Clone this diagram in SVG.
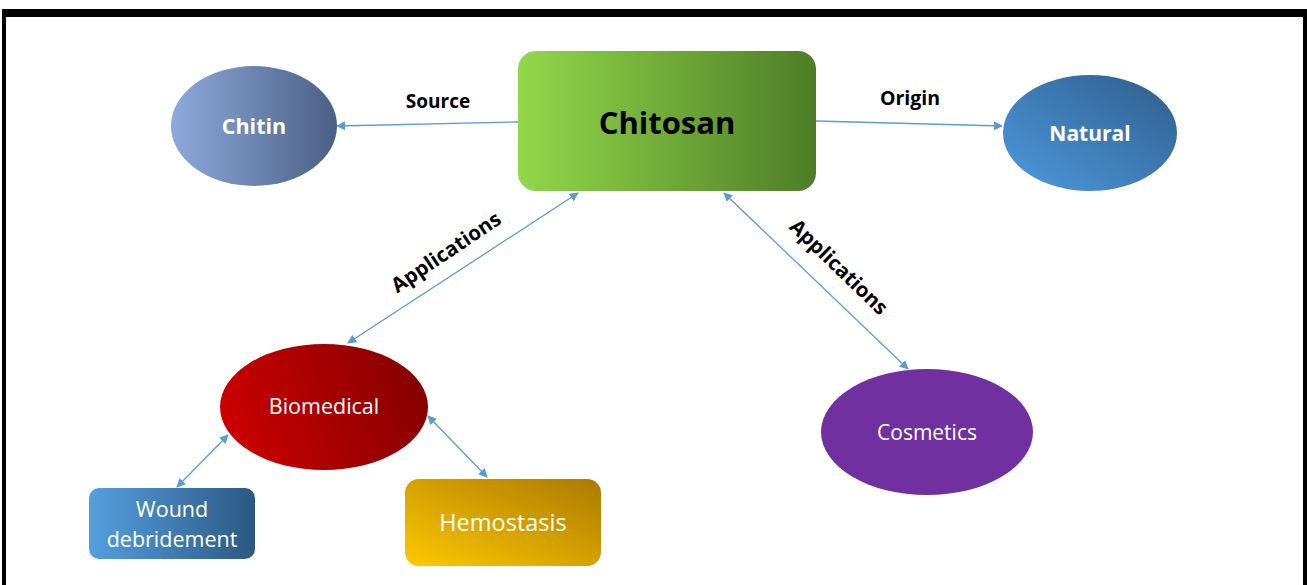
<svg xmlns="http://www.w3.org/2000/svg" width="1307" height="585" viewBox="0 0 1307 585">
<defs>
<linearGradient id="gGreen" x1="0" y1="0" x2="1" y2="0"><stop offset="0" stop-color="#92d84a"/><stop offset="1" stop-color="#4e7d27"/></linearGradient>
<linearGradient id="gChitin" x1="0" y1="0" x2="1" y2="0"><stop offset="0" stop-color="#8eaadc"/><stop offset="1" stop-color="#4a5f85"/></linearGradient>
<linearGradient id="gNatural" x1="0" y1="1" x2="1" y2="0"><stop offset="0" stop-color="#4d9ae0"/><stop offset="1" stop-color="#2f5d8a"/></linearGradient>
<linearGradient id="gRed" x1="0" y1="0.6" x2="1" y2="0.4"><stop offset="0" stop-color="#cc0000"/><stop offset="1" stop-color="#860000"/></linearGradient>
<linearGradient id="gWound" x1="0" y1="0" x2="1" y2="0"><stop offset="0" stop-color="#559fe0"/><stop offset="1" stop-color="#2c5882"/></linearGradient>
<linearGradient id="gHemo" x1="0" y1="1" x2="1" y2="0"><stop offset="0" stop-color="#ffc800"/><stop offset="1" stop-color="#ab7a00"/></linearGradient>
<marker id="arr" viewBox="0 0 10 10" refX="9" refY="5" markerWidth="9" markerHeight="9" markerUnits="userSpaceOnUse" orient="auto-start-reverse"><path d="M0,0 L10,5 L0,10 z" fill="#5b9bd5"/></marker>
<style>
.lbl{font-family:"Open Sans","Liberation Sans",sans-serif;}
.b{font-weight:bold}
.w{fill:#fff}
.con{stroke:#5b9bd5;stroke-width:1.3;fill:none}
</style>
</defs>
<rect x="0" y="0" width="1307" height="585" fill="#fff"/>
<g id="frame">
<rect x="2" y="9" width="1305" height="8" fill="#000"/>
<rect x="2" y="9" width="4" height="576" fill="#000"/>
<rect x="1303" y="9" width="4" height="576" fill="#000"/>
</g>
<g id="connectors">
<line class="con" x1="518" y1="122" x2="337" y2="126" marker-end="url(#arr)"/>
<line class="con" x1="816" y1="121" x2="1002" y2="126" marker-end="url(#arr)"/>
<line class="con" x1="578" y1="193" x2="348" y2="343" marker-start="url(#arr)" marker-end="url(#arr)"/>
<line class="con" x1="724" y1="193" x2="908" y2="369" marker-start="url(#arr)" marker-end="url(#arr)"/>
<line class="con" x1="228" y1="435" x2="177" y2="487" marker-start="url(#arr)" marker-end="url(#arr)"/>
<line class="con" x1="428" y1="416" x2="487" y2="477" marker-start="url(#arr)" marker-end="url(#arr)"/>
<text class="lbl b" x="438" y="108" font-size="19" text-anchor="middle">Source</text>
<text class="lbl b" x="910" y="105" font-size="19.5" text-anchor="middle">Origin</text>
<text class="lbl b" font-size="20.5" text-anchor="middle" transform="translate(450,258) rotate(-34)">Applications</text>
<text class="lbl b" font-size="20.5" text-anchor="middle" transform="translate(834,272) rotate(44)">Applications</text>
</g>
<g id="chitosan">
<rect x="518" y="51" width="298" height="140" rx="18" fill="url(#gGreen)"/>
<text class="lbl b" x="667" y="134" font-size="31" text-anchor="middle">Chitosan</text>
</g>
<g id="chitin">
<ellipse cx="254" cy="126" rx="83" ry="60" fill="url(#gChitin)"/>
<text class="lbl b w" x="254" y="134" font-size="21.5" text-anchor="middle">Chitin</text>
</g>
<g id="natural">
<ellipse cx="1090" cy="133" rx="87" ry="58" fill="url(#gNatural)"/>
<text class="lbl b w" x="1090" y="141" font-size="21" text-anchor="middle">Natural</text>
</g>
<g id="biomedical">
<ellipse cx="324" cy="407" rx="104" ry="63" fill="url(#gRed)"/>
<text class="lbl w" x="324" y="414" font-size="21.5" text-anchor="middle">Biomedical</text>
</g>
<g id="cosmetics">
<ellipse cx="927" cy="432" rx="106" ry="63" fill="#7030a0"/>
<text class="lbl w" x="927" y="440" font-size="21" text-anchor="middle">Cosmetics</text>
</g>
<g id="wound">
<rect x="89" y="488" width="166" height="71" rx="10" fill="url(#gWound)"/>
<text class="lbl w" x="172" y="517" font-size="21.5" text-anchor="middle">Wound</text>
<text class="lbl w" x="172" y="547" font-size="21.5" text-anchor="middle">debridement</text>
</g>
<g id="hemostasis">
<rect x="405" y="479" width="196" height="87" rx="14" fill="url(#gHemo)"/>
<text class="lbl w" x="503" y="531" font-size="23.5" text-anchor="middle">Hemostasis</text>
</g>
</svg>
